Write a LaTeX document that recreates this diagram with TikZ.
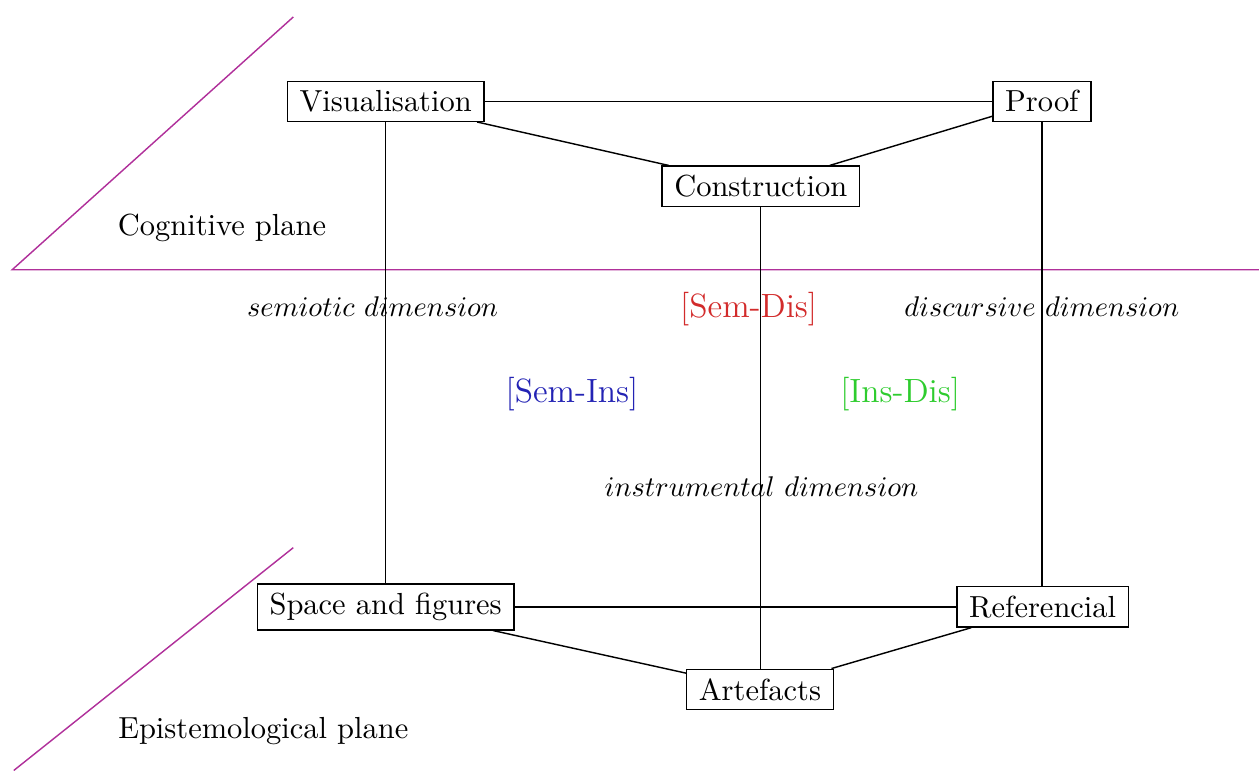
\documentclass[tikz,border=0pt]{standalone}
\usepackage{xcolor}
\usepackage{amsmath}
\usetikzlibrary{calc,positioning}
\definecolor{PlaneViolet}{HTML}{B0309A}
\definecolor{PairRed}{HTML}{D22B2B}
\definecolor{PairBlue}{HTML}{2323B4}
\definecolor{PairGreen}{HTML}{2ECC2E}
\tikzset{
  dimBox/.style={
    draw,
    rectangle,
    line width=0.5pt,
    inner xsep=4.3pt,
    inner ysep=3.2pt,
    font=\fontsize{10.7pt}{12.8pt}\selectfont
  },
  planeText/.style={
    font=\fontsize{10.7pt}{12.8pt}\selectfont
  },
  dimText/.style={
    font=\fontsize{10pt}{12pt}\selectfont
  },
  pairText/.style={
    font=\fontsize{11.8pt}{14pt}\selectfont
  },
  planeLine/.style={
    draw=PlaneViolet,
    line width=0.5pt
  },
  linkLine/.style={
    draw=black,
    line width=0.5pt
  }
}
\begin{document}
\begin{tikzpicture}
        \useasboundingbox (0,0) rectangle (15.54,-9.51);

        % planes
        \draw [planeLine] (3.62,-0.21) -- (0.15,-3.33) -- (15.54,-3.33);
        \draw [planeLine] (3.62,-6.76) -- (0.17,-9.51);
        \node (cogPlane) [planeText] at (2.74,-2.81) {Cognitive plane};
        \node (epiPlane) [planeText] at (3.25,-9.02) {Epistemological plane};

        % cognitive plane
        \node (vis) [dimBox] at (4.76,-1.25) {Visualisation};
        \node (proof) [dimBox] at (12.86,-1.25) {Proof};
        \node (constr) [dimBox] at (9.39,-2.30) {Construction};

        % epistemological plane
        \node (space) [dimBox] at (4.76,-7.49) {Space and figures};
        \node (refer) [dimBox] at (12.87,-7.49) {Referencial};
        \node (art) [dimBox] at (9.38,-8.51) {Artefacts};

        \draw [linkLine] (vis) -- (proof);
        \draw [linkLine] (vis) -- (constr);
        \draw [linkLine] (constr) -- (proof);
        \draw [linkLine] (space) -- (refer);
        \draw [linkLine] (space) -- (art);
        \draw [linkLine] (art) -- (refer);

        \draw [linkLine] (vis) -- (vis |- space.north);
        \draw [linkLine] (constr) -- (constr |- art.north);
        \draw [linkLine] (proof) -- (proof |- refer.north);

        % dimensions
        \node (semDim) [dimText] at (4.60,-3.79) {$semiotic\ dimension$};
        \node (disDim) [dimText] at (12.86,-3.79) {$discursive\ dimension$};
        \node (insDim) [dimText] at (9.40,-6.01) {$instrumental\ dimension$};
        \node (semDis) [pairText, text=PairRed] at (9.24,-3.81) {[Sem-Dis]};
        \node (semIns) [pairText, text=PairBlue] at (7.06,-4.87) {[Sem-Ins]};
        \node (insDis) [pairText, text=PairGreen] at (11.11,-4.87) {[Ins-Dis]};
      \end{tikzpicture}
\end{document}
